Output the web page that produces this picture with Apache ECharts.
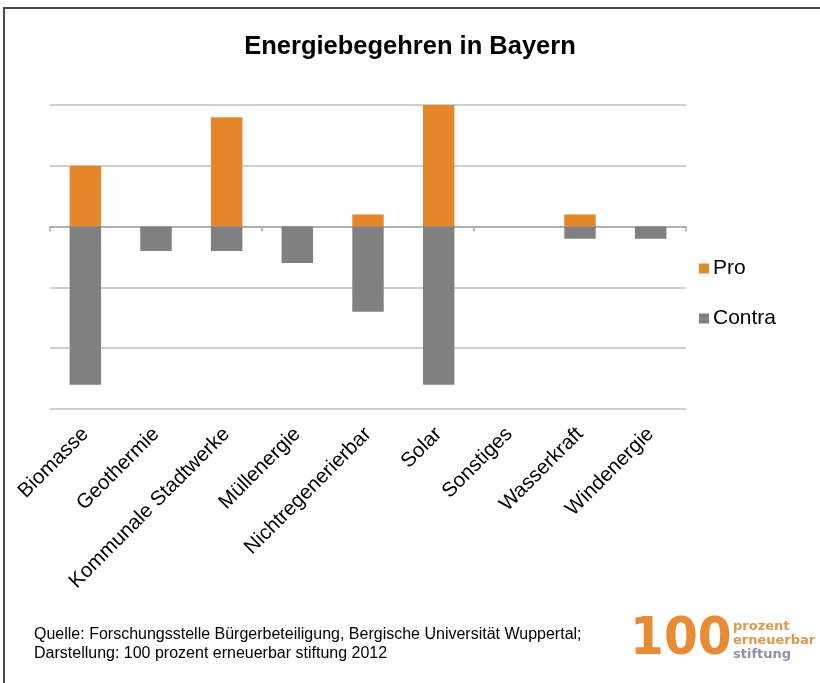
<!DOCTYPE html>
<html lang="de">
  <head>
    <meta charset="UTF-8" />
    <title>Energiebegehren in Bayern</title>
    <style>
      html,
      body {
        margin: 0;
        padding: 0;
        width: 100%;
        height: 100%;
        background: #fff;
        overflow: hidden;
      }
      #main {
        width: 820px;
        height: 683px;
      }
    </style>
    <script src="https://cdn.jsdelivr.net/npm/echarts@6/dist/echarts.min.js"></script>
  </head>
  <body>
    <div id="main"></div>
    <script>
      // Werte (Anzahl Begehren)
      const categories = [
        "Biomasse",
        "Geothermie",
        "Kommunale Stadtwerke",
        "Müllenergie",
        "Nichtregenerierbar",
        "Solar",
        "Sonstiges",
        "Wasserkraft",
        "Windenergie",
      ];
      const proValues = [5, 0, 9, 0, 1, 10, 0, 1, 0];
      const contraValues = [-13, -2, -2, -3, -7, -13, 0, -1, -1];
      const seriesNames = ["Pro", "Contra"];

      const font = "'Liberation Sans', Arial, sans-serif";
      const orange = "#E6862A";
      const grey = "#808080";

      const chart = echarts.init(document.getElementById("main"));

      const option = {
        backgroundColor: "#fff",
        animation: false,
        title: {
          text: "Energiebegehren in Bayern",
          left: "center",
          top: 29,
          textStyle: {
            fontFamily: font,
            fontSize: 25.5,
            fontWeight: "bold",
            color: "#000",
          },
        },
        legend: {
          orient: "vertical",
          left: 694,
          top: 253,
          itemWidth: 10,
          itemHeight: 10,
          itemGap: 29,
          icon: "rect",
          data: seriesNames,
          textStyle: { fontFamily: font, fontSize: 21, color: "#000", padding: [0, 0, 0, -1] },
        },
        grid: { left: 50, right: 134, top: 105, bottom: 274 },
        xAxis: [
          {
            type: "category",
            position: "bottom",
            data: categories,
            axisLine: { show: false, onZero: false },
            axisTick: { show: false },
            axisLabel: {
              rotate: 45,
              margin: 22,
              interval: 0,
              color: "#000",
              fontFamily: font,
              fontSize: 20.5,
            },
          },
          {
            // Nulllinie mit Teilstrichen
            type: "category",
            position: "top",
            data: categories,
            axisLine: {
              show: true,
              onZero: true,
              lineStyle: { color: "#A6A6A6", width: 1.5 },
            },
            axisTick: {
              show: true,
              inside: true,
              length: 5,
              lineStyle: { color: "#A6A6A6", width: 1.5 },
            },
            axisLabel: { show: false },
          },
        ],
        yAxis: {
          type: "value",
          min: -15,
          max: 10,
          interval: 5,
          axisLine: { show: false },
          axisTick: { show: false },
          axisLabel: { show: false },
          splitLine: { lineStyle: { color: "#BFBFBF", width: 1.5 } },
        },
        series: [
          {
            name: seriesNames[0],
            type: "bar",
            stack: "total",
            barWidth: "44.5%",
            data: proValues,
            itemStyle: { color: orange },
          },
          {
            name: seriesNames[1],
            type: "bar",
            stack: "total",
            barWidth: "44.5%",
            data: contraValues,
            itemStyle: { color: grey },
          },
        ],
        graphic: [
          {
            type: "rect",
            silent: true,
            shape: { x: 4, y: 8, width: 900, height: 900 },
            style: { fill: "none", stroke: "#4a4a4a", lineWidth: 2 },
          },
          {
            type: "text",
            left: 34,
            top: 625,
            style: {
              text:
                "Quelle: Forschungsstelle Bürgerbeteiligung, Bergische Universität Wuppertal;\nDarstellung: 100 prozent erneuerbar stiftung 2012",
              font: "16px " + font,
              lineHeight: 19,
              fill: "#000",
            },
          },
          {
            type: "text",
            x: 630,
            y: 614,
            scaleX: 0.84,
            scaleY: 0.9,
            style: {
              text: "100",
              font: "bold 58px 'DejaVu Sans', sans-serif",
              fill: orange,
              opacity: 0.95,
            },
          },
          {
            type: "text",
            x: 733,
            y: 620,
            style: {
              text: "prozent",
              font: "bold 13px 'DejaVu Sans', sans-serif",
              fill: "#D99A4E",
            },
          },
          {
            type: "text",
            x: 733,
            y: 634,
            style: {
              text: "erneuerbar",
              font: "bold 13px 'DejaVu Sans', sans-serif",
              fill: "#D99A4E",
            },
          },
          {
            type: "text",
            x: 733,
            y: 648,
            style: {
              text: "stiftung",
              font: "bold 13px 'DejaVu Sans', sans-serif",
              fill: "#8F91A8",
            },
          },
        ],
      };

      chart.setOption(option);
    </script>
  </body>
</html>
